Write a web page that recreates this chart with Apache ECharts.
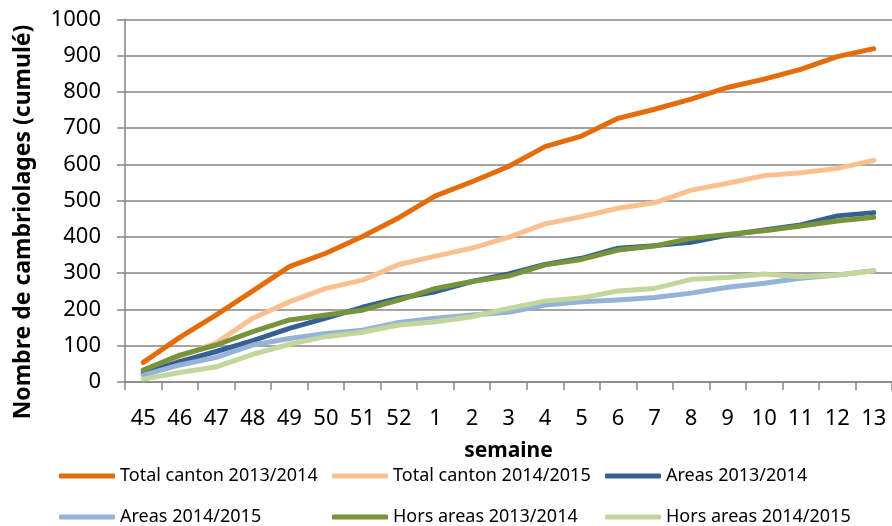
<!DOCTYPE html>
<html><head><meta charset="utf-8">
<script src="https://cdn.jsdelivr.net/npm/echarts@6/dist/echarts.min.js"></script>
<style>html,body{margin:0;padding:0;background:#fff}#c{width:892px;height:526px}</style>
</head><body><div id="c"></div>
<script>
const weeks = ['45','46','47','48','49','50','51','52','1','2','3','4','5','6','7','8','9','10','11','12','13'];
const totalCanton1314 = [54,123,185,251,318,355,401,453,513,552,594,649,678,727,752,780,812,835,862,897,919];
const totalCanton1415 = [30,70,108,176,221,258,281,324,347,369,399,436,456,479,494,529,548,569,577,589,611];
const areas1314 = [24,56,84,114,148,176,206,231,249,277,298,324,341,369,376,385,405,419,433,458,467];
const areas1415 = [19,47,68,102,120,134,143,164,176,185,192,212,221,226,233,245,261,272,286,295,307];
const horsAreas1314 = [33,74,102,139,171,185,198,226,258,277,292,323,338,364,375,396,407,417,430,444,454];
const horsAreas1415 = [8,26,42,76,104,125,137,157,166,180,203,223,232,251,258,283,288,298,290,295,307];
const yTicks = [0,100,200,300,400,500,600,700,800,900,1000];

const names = ['Total canton 2013/2014','Total canton 2014/2015','Areas 2013/2014','Areas 2014/2015','Hors areas 2013/2014','Hors areas 2014/2015'];
const colors = ['#E46C0A','#FAC090','#376092','#95B3D7','#77933C','#C3D69B'];
const datas = [totalCanton1314,totalCanton1415,areas1314,areas1415,horsAreas1314,horsAreas1415];
const FONT = "'Noto Sans', sans-serif";

const chart = echarts.init(document.getElementById('c'), null, {renderer:'canvas'});
const legendPos = [[59,467],[332,467],[605,467],[59,508],[332,508],[605,508]];
const legends = names.map((n, i) => ({
  left: legendPos[i][0], top: legendPos[i][1], orient: 'horizontal', padding: 0,
  itemWidth: 56, itemHeight: 5, icon: 'roundRect',
  textStyle: {fontFamily: FONT, fontSize: 18, color: '#000'},
  data: [n]
}));
chart.setOption({
  animation: false,
  backgroundColor: '#fff',
  color: colors,
  textStyle: {fontFamily: FONT},
  grid: {left: 125, right: -5, top: 19.3, bottom: 144, containLabel: false},
  legend: legends,
  xAxis: {
    type: 'category', data: weeks, boundaryGap: true,
    name: 'semaine', nameLocation: 'middle', nameGap: 59,
    nameTextStyle: {fontFamily: FONT, fontSize: 21, fontWeight: 'bold', color: '#000'},
    axisLine: {lineStyle: {color: '#868686', width: 1.5}},
    axisTick: {show: true, length: 8, lineStyle: {color: '#868686', width: 1.5}},
    axisLabel: {fontFamily: FONT, fontSize: 22, color: '#000', margin: 26, interval: 0}
  },
  yAxis: {
    type: 'value', min: 0, max: 1000, interval: 100,
    axisLine: {show: true, lineStyle: {color: '#868686', width: 1.5}},
    axisTick: {show: true, length: 8, lineStyle: {color: '#868686', width: 1.5}},
    axisLabel: {fontFamily: FONT, fontSize: 22, color: '#000', margin: 24,
      formatter: v => yTicks.includes(v) ? String(v) : ''},
    splitLine: {show: true, lineStyle: {color: '#868686', width: 1.5}}
  },
  graphic: [{
    type: 'text', x: 23, y: 222, rotation: Math.PI/2,
    style: {text: 'Nombre de cambriolages (cumulé)', font: "bold 23px 'Noto Sans', sans-serif",
      fill: '#000', align: 'center', verticalAlign: 'middle'}
  }],
  series: datas.map((d, i) => ({
    name: names[i], type: 'line', data: d, showSymbol: false, symbol: 'none',
    lineStyle: {width: 5, color: colors[i], cap: 'round', join: 'round'},
    itemStyle: {color: colors[i]}, clip: false
  }))
});
</script></body></html>
